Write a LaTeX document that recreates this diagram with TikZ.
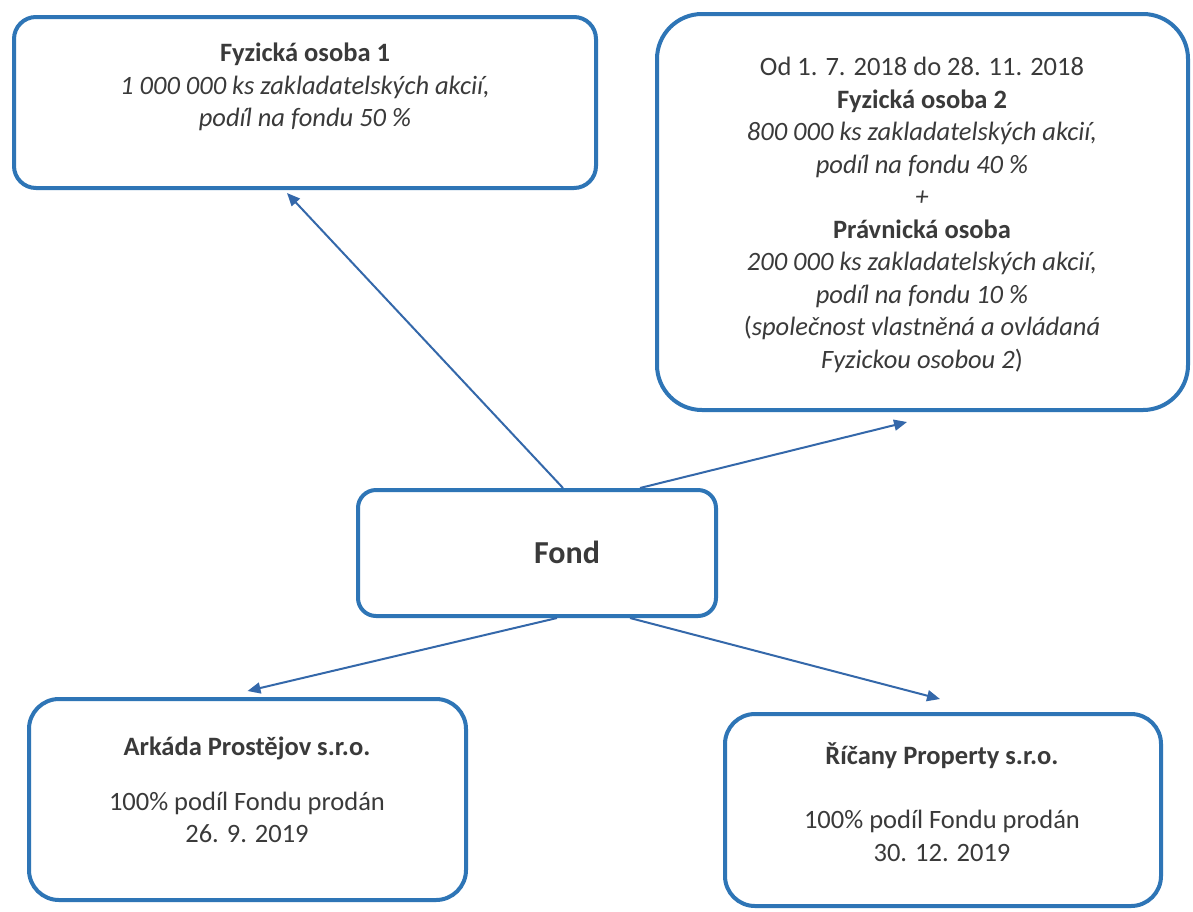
\documentclass[tikz,border=0pt]{standalone}
\usepackage{fontspec}
\setmainfont{Carlito}
\usetikzlibrary{arrows.meta}
\definecolor{boxblue}{RGB}{46,117,182}
\definecolor{arrblue}{RGB}{52,104,170}
\definecolor{txtgray}{RGB}{58,58,58}
\tikzset{
  box/.style={draw=boxblue, line width=4pt, fill=white, inner sep=0pt},
  txt/.style={text=txtgray, align=center, inner sep=0pt, font=\fontsize{26.5}{32.5}\selectfont},
  conn/.style={draw=arrblue, line width=2pt, -{Triangle[length=13pt,width=11pt]}}
}
\begin{document}
\begin{tikzpicture}[x=1pt,y=-1pt]
\useasboundingbox (0,0) rectangle (1193,911);
\fill[white] (0,0) rectangle (1193,911);
% boxes
\node[box, minimum width=582pt, minimum height=171pt, rounded corners=22pt] (fo1) at (305,102.5) {};
\node[box, minimum width=531pt, minimum height=396pt, rounded corners=45pt] (fo2) at (922.5,212) {};
\node[box, minimum width=358pt, minimum height=126pt, rounded corners=18pt] (fond) at (537,553) {};
\node[box, minimum width=437pt, minimum height=201pt, rounded corners=30pt] (ark) at (247.5,799.5) {};
\node[box, minimum width=436pt, minimum height=192pt, rounded corners=30pt] (ric) at (943,810) {};
% texts
\node[txt] (t1) at (305,87) {\textbf{Fyzická osoba 1}\\\textit{1 000 000 ks zakladatelských akcií,}\\\textit{podíl na fondu 50 \%}};
\node[txt] (t2) at (922,215) {Od 1. 7. 2018 do 28. 11. 2018\\\textbf{Fyzická osoba 2}\\\textit{800 000 ks zakladatelských akcií,}\\\textit{podíl na fondu 40 \%}\\\textit{+}\\\textbf{Právnická osoba}\\\textit{200 000 ks zakladatelských akcií,}\\\textit{podíl na fondu 10 \%}\\(\textit{společnost vlastněná a ovládaná}\\\textit{Fyzickou osobou 2})};
\node[txt, font=\fontsize{32}{38}\selectfont] (tf) at (567,552) {\textbf{Fond}};
\node[txt] (ta) at (247,790) {\textbf{Arkáda Prostějov s.r.o.}\\[22pt]100\% podíl Fondu prodán\\26. 9. 2019};
\node[txt] (tr) at (942,802) {\textbf{Říčany Property s.r.o.}\\[32pt]100\% podíl Fondu prodán\\30. 12. 2019};
% connectors
\draw[conn] ([xshift=26pt]fond.north) -- ([xshift=-18pt,yshift=-3pt]fo1.south);
\draw[conn] ([xshift=103pt]fond.north) -- ([xshift=-15.5pt,yshift=-10pt]fo2.south);
\draw[conn] ([xshift=20pt]fond.south) -- ([yshift=6pt]ark.north);
\draw[conn] ([xshift=93pt]fond.south) -- ([xshift=-3pt,yshift=13pt]ric.north);
\end{tikzpicture}
\end{document}
